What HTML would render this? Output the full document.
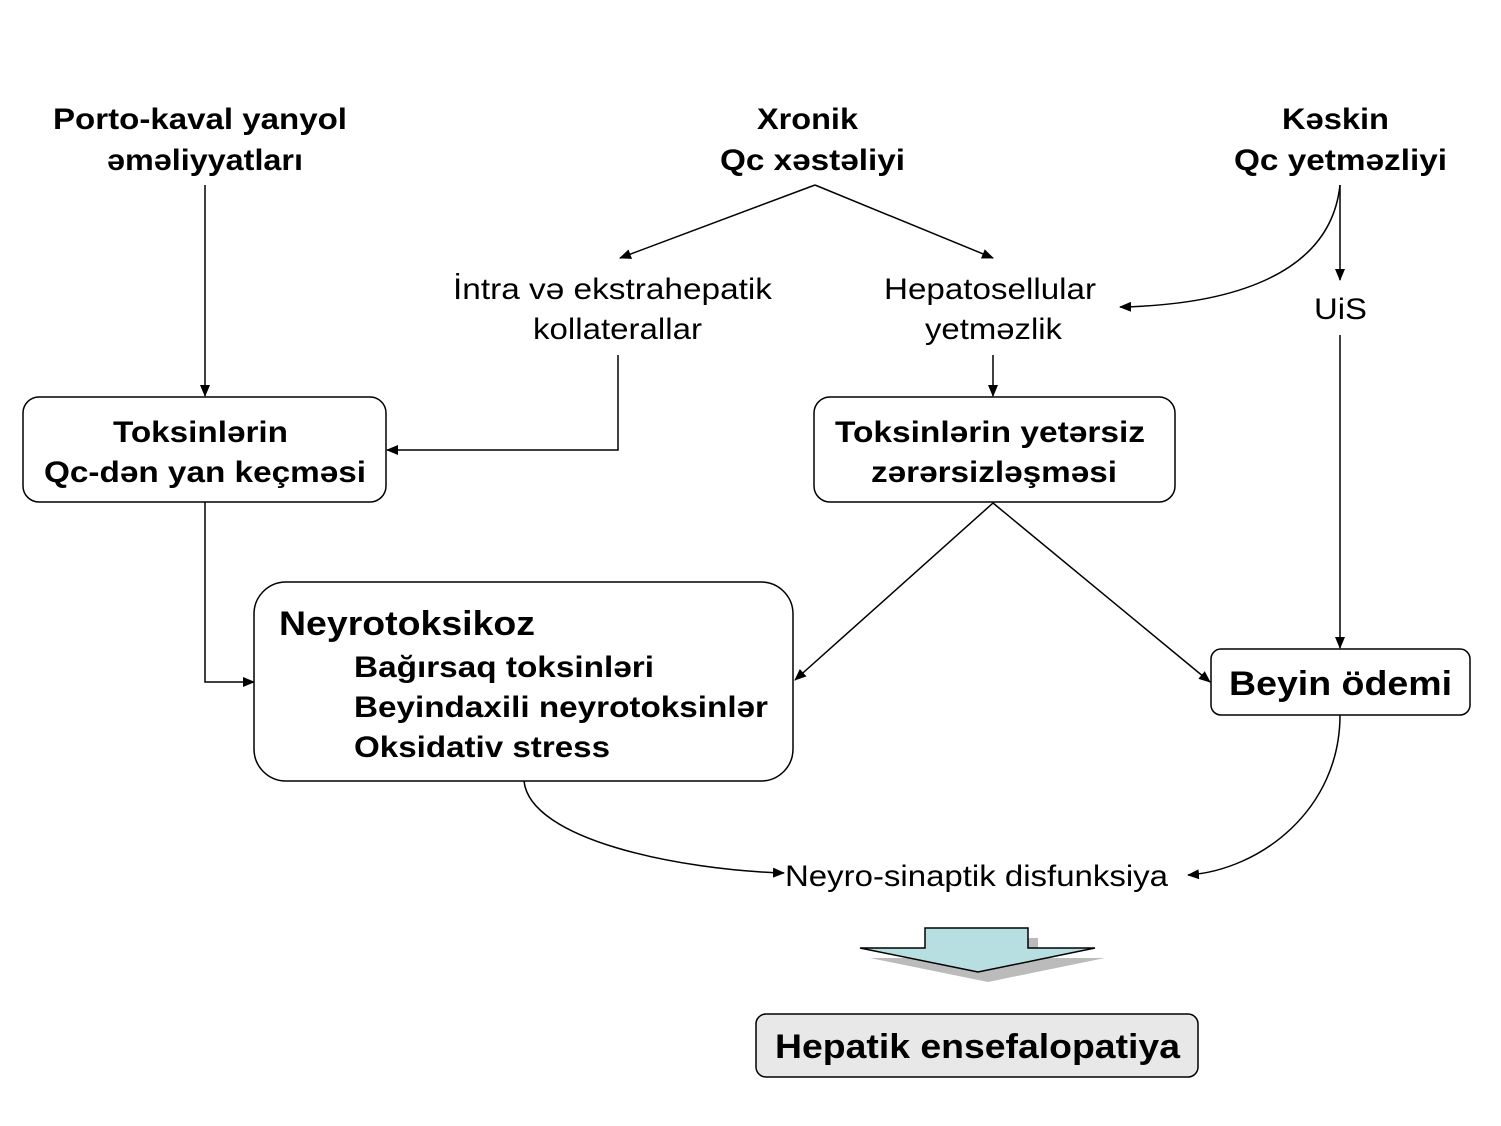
<!DOCTYPE html>
<html><head><meta charset="utf-8"><style>
html,body{margin:0;padding:0;background:#fff;}
svg{display:block;}
text{font-family:"Liberation Sans",Arial,sans-serif;fill:#000;}
.b{font-weight:bold;font-size:30px;}
.n{font-size:30px;}
</style></head><body>
<svg width="1501" height="1126" viewBox="0 0 1501 1126" xmlns="http://www.w3.org/2000/svg">
<defs>
<marker id="a" markerWidth="12" markerHeight="10" refX="11" refY="5" orient="auto" markerUnits="userSpaceOnUse">
<path d="M0,0 L12,5 L0,10 z" fill="#000"/></marker>
</defs>
<g fill="none" stroke="#000" stroke-width="1.5">
<rect x="23" y="397" width="363" height="105" rx="16"/>
<rect x="814" y="397" width="361" height="105" rx="16"/>
<rect x="254" y="582" width="539" height="199" rx="32"/>
<rect x="1211" y="649" width="259" height="66" rx="10"/>
</g>
<rect x="756" y="1014" width="442" height="63" rx="10" fill="#e8e8e8" stroke="#000" stroke-width="1.5"/>

<g lengthAdjust="spacingAndGlyphs">
<text class="b" x="53" y="129" textLength="294" lengthAdjust="spacingAndGlyphs">Porto-kaval yanyol</text>
<text class="b" x="107" y="170" textLength="196" lengthAdjust="spacingAndGlyphs">əməliyyatları</text>
<text class="b" x="757" y="129" textLength="101" lengthAdjust="spacingAndGlyphs">Xronik</text>
<text class="b" x="720" y="170" textLength="185" lengthAdjust="spacingAndGlyphs">Qc xəstəliyi</text>
<text class="b" x="1282" y="129" textLength="107" lengthAdjust="spacingAndGlyphs">Kəskin</text>
<text class="b" x="1234" y="170" textLength="213" lengthAdjust="spacingAndGlyphs">Qc yetməzliyi</text>
<text class="n" x="453" y="299" textLength="319" lengthAdjust="spacingAndGlyphs">İntra və ekstrahepatik</text>
<text class="n" x="533" y="339" textLength="169" lengthAdjust="spacingAndGlyphs">kollaterallar</text>
<text class="n" x="884" y="299" textLength="212" lengthAdjust="spacingAndGlyphs">Hepatosellular</text>
<text class="n" x="925" y="339" textLength="137" lengthAdjust="spacingAndGlyphs">yetməzlik</text>
<text class="n" x="1314" y="319" textLength="53" lengthAdjust="spacingAndGlyphs">UiS</text>
<text class="b" x="113" y="442" textLength="175" lengthAdjust="spacingAndGlyphs">Toksinlərin</text>
<text class="b" x="44" y="482" textLength="322" lengthAdjust="spacingAndGlyphs">Qc-dən yan keçməsi</text>
<text class="b" x="835" y="442" textLength="310" lengthAdjust="spacingAndGlyphs">Toksinlərin yetərsiz</text>
<text class="b" x="871" y="482" textLength="246" lengthAdjust="spacingAndGlyphs">zərərsizləşməsi</text>
<text class="b" x="1229" y="695" textLength="223" lengthAdjust="spacingAndGlyphs" style="font-size:34px">Beyin ödemi</text>
<text class="n" x="785" y="886" textLength="383" lengthAdjust="spacingAndGlyphs">Neyro-sinaptik disfunksiya</text>
<text class="b" x="775" y="1058" textLength="405" lengthAdjust="spacingAndGlyphs" style="font-size:34px">Hepatik ensefalopatiya</text>
<text class="b" x="279" y="635" textLength="256" lengthAdjust="spacingAndGlyphs" style="font-size:34px">Neyrotoksikoz</text>
<text class="b" x="354" y="677" textLength="300" lengthAdjust="spacingAndGlyphs">Bağırsaq toksinləri</text>
<text class="b" x="354" y="717" textLength="414" lengthAdjust="spacingAndGlyphs">Beyindaxili neyrotoksinlər</text>
<text class="b" x="354" y="757" textLength="256" lengthAdjust="spacingAndGlyphs">Oksidativ stress</text>
</g>

<g fill="none" stroke="#000" stroke-width="1.5" marker-end="url(#a)">
<line x1="205" y1="185" x2="205" y2="396"/>
<line x1="815" y1="185" x2="620" y2="258"/>
<line x1="815" y1="185" x2="993" y2="258"/>
<path d="M1340,185 C1330,280 1220,305 1120,307"/>
<line x1="1340" y1="185" x2="1340" y2="280"/>
<line x1="1340" y1="335" x2="1340" y2="648"/>
<polyline points="618,355 618,450 387,450"/>
<line x1="993" y1="355" x2="993" y2="396"/>
<polyline points="205,502 205,682 254,682"/>
<line x1="993" y1="503" x2="795" y2="680"/>
<line x1="993" y1="503" x2="1210" y2="682"/>
<path d="M524,781 C530,840 680,870 784,873"/>
<path d="M1340,715 C1340,810 1260,870 1188,875"/>
</g>

<polygon points="935,938 1038,938 1038,958 1105,958 988,982 870,958 935,958" fill="#bbb"/>
<polygon points="925,928 1028,928 1028,948 1095,948 978,972 860,948 925,948" fill="#b7dfe2" stroke="#000" stroke-width="1.5"/>
</svg>
</body></html>
